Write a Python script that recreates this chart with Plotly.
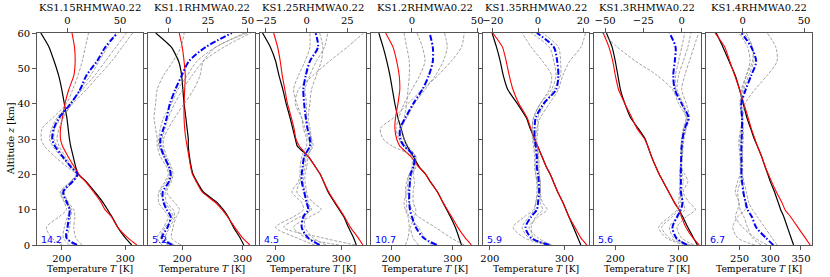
import plotly.graph_objects as go

# ---------------- data ----------------
Z = [0, 2, 5, 8, 10, 12, 15, 18, 20, 22, 25, 28, 30, 33, 36, 40, 44, 48, 52, 56, 60]

titles = ["KS1.15RHMWA0.22", "KS1.1RHMWA0.22", "KS1.25RHMWA0.22", "KS1.2RHMWA0.22",
          "KS1.35RHMWA0.22", "KS1.3RHMWA0.22", "KS1.4RHMWA0.22"]
notes = ["14.2", "5.2", "4.5", "10.7", "5.9", "5.6", "6.7"]

# panel 1
p1_black = [310, 300, 288, 279, 272, 265, 252, 238, 226, 222, 218, 214, 212, 210, 208, 204, 200, 195, 188, 180, 167]
p1_red = [318, 304, 288, 278, 268, 262, 250, 237, 227, 220, 210, 201, 198, 198, 201, 205, 211, 219, 221, 220, 216]
p1_blue = [9, -1, 0, 1.5, 2, -0.5, -4, 5, 9.5, 3.5, -4.5, -12, -14.5, -13, -8, 3, 12, 18, 28, 36, 47.5]
p1_g1 = [-5, -15, -20, -8, -1, -3, -7, 3, 8, 0, -12, -22, -25, -24, -14, -1, 5, 10, 14, 17, 20]
p1_g2 = [14, 8, 6, 7, 6, 1, -3, 6, 10, 5, -2, -8, -10, -8, -4, 4, 12, 22, 30, 38, 46]
p1_g3 = [2, -4, -3, 0, 3, 0, -5, 3, 9, 3, -6, -14, -17, -15, -10, 2, 14, 26, 36, 46, 56]
p1_g4 = [5, 0, 2, 3, 4, -2, -6, 4, 10, 4, -4, -10, -13, -12, -6, 5, 18, 30, 42, 52, 62]

# panel 2
p2_black = [302, 296, 285, 276, 268, 258, 235, 224, 218, 215, 212, 210, 210, 208, 206, 203, 201, 199, 194, 182, 156]
p2_red = [312, 300, 287, 275, 266, 255, 233, 223, 217, 214, 211, 208, 206, 204, 203, 203, 204, 205, 203, 200, 195]
p2_blue = [2.5, -4, -0.5, 1.5, -1, -3, -3.5, 0.5, 1.5, 0.5, -2.5, -5, -5, -3, -1, 1, 4.4, 8.5, 13, 23.5, 40]
p2_g1 = [-4, -7, -3, 0, -3, -6, -6, -2, 0, -1, -5, -7, -7, -8, -9, -8, -7, -3, 3, 8, 10]
p2_g2 = [8, 2, 3, 5, 7, 4, -1, 2, 3, 2, -1, -3, -3, 0, 4, 10, 16, 20, 22, 30, 50]
p2_g3 = [0, -5, -2, 3, 1, -2, -5, -1, 1, 0, -3, -6, -6, -5, -3, 2, 6, 12, 18, 30, 48]
p2_g4 = [4, -2, 1, 4, 3, -1, -2, 1, 2, 1, -2, -4, -4, -2, 0, 4, 9, 15, 22, 35, 52]

# panel 3
p3_black = [323, 319, 311, 304, 297, 290, 280, 273, 268, 261, 250, 233, 230, 226, 222, 216, 211, 205, 200, 192, 180]
p3_red = [333, 326, 314, 305, 298, 291, 281, 273, 268, 261, 250, 236, 231, 228, 224, 218, 214, 210, 207, 203, 197]
p3_blue = [8, 1, -3, -2, 1, 0, -1.5, -3, -3, -2.5, -1.5, 2, 2, 0.5, -0.5, -1.5, -2, -0.5, 2, 7, 5.5]
p3_g1 = [30, 10, -14, -4, 3, 0, -6, -4, -3, -2, -1, 2, 1, -1, -3, -7, -5, 4, 14, 25, 35]
p3_g2 = [20, 0, -8, 2, 9, 4, -1, -2, -2, -1, 0, 4, 3, 1, 0, 0, -1, 2, 6, 11, 13]
p3_g3 = [5, -6, -19, -8, -2, -3, -9, -5, -4, -4, -3, 0, 0, -2, -3, -6, -8, -5, -1, 2, 2]
p3_g4 = [12, 4, -1, -1, 2, 1, 0, -1, -1, 0, 1, 3, 3, 2, 1, 2, 3, 6, 9, 10, 8]

# panel 4
p4_black = [314, 310, 304, 296, 290, 284, 275, 263, 256, 246, 236, 226, 221, 216, 211, 206, 202, 198, 193, 187, 180]
p4_red = [330, 320, 308, 298, 291, 284, 275, 263, 256, 245, 232, 214, 209, 206, 207, 211, 214, 213, 209, 203, 191]
p4_blue = [19, 9, 3, 0, -1.5, -2, -2, -1.5, -1, 1, 2, -6, -9, -9, -5, 1, 8, 13, 16, 16, 13.5]
p4_g1 = [40, 30, 18, 5, 0, -2, -3, -1, 0, 3, 1, -15, -22, -24, -14, -3, 8, 20, 30, 38, 40]
p4_g2 = [-5, -3, -2, -3, -5, -6, -4, -3, -2, 0, 0, -5, -8, -9, -6, -4, -3, -2, -2, -4, -6]
p4_g3 = [5, 1, -1, 2, 3, 1, 1, 2, 1, 2, 3, -3, -6, -8, -4, 2, 10, 18, 24, 27, 25]
p4_g4 = [15, 10, 5, -2, -4, -4, -5, -4, -2, 1, 3, -6, -10, -12, -10, -6, 0, 6, 10, 8, 4]

# panel 5
p5_black = [322, 318, 312, 306, 302, 298, 291, 285, 281, 276, 270, 264, 260, 254, 249, 237, 224, 218, 214, 209, 203]
p5_red = [330, 322, 314, 306, 302, 298, 291, 285, 281, 276, 270, 264, 260, 255, 250, 239, 231, 226, 222, 217, 204]
p5_blue = [5, -3, -5.5, -3, -0.5, 0, 0.5, 0.3, 0, -0.5, -0.5, -1, -1.5, -1.5, -1, 2.5, 8, 9, 8.5, 7, -0.5]
p5_g1 = [6, 0, -4, 0, 4, 2, 1, 1, 0.5, 0, 0, -0.5, -1, -0.5, 1, 5, 9, 11, 14, 19, 21]
p5_g2 = [4, -6, -11, -6, -2, -1, -0.5, -0.5, -1, -1.5, -1.5, -2, -2.5, -2.5, -2, 1, 5, 6, 2, -3, -7]
p5_g3 = [5, -2, -3, -1, 2, 1, 1, 1, 0.5, 0.5, 0.3, -0.3, -0.5, 0, 0, 3, 7, 10, 10, 9, 2]
p5_g4 = [5, -4, -7, -4, -1.5, -1, 0, -0.5, -1, -1, -1, -1.5, -2, -2.5, -2, 1, 6, 8, 7, 5, -3]

# panel 6
p6_black = [329, 323, 314, 306, 300, 293, 284, 275, 269, 264, 257, 251, 247, 236, 224, 215, 208, 204, 200, 195, 186]
p6_red = [332, 322, 311, 304, 300, 293, 284, 275, 269, 264, 257, 251, 246, 234, 226, 215, 205, 200, 196, 190, 181]
p6_blue = [3.5, -3.5, -6, -3, -0.5, 0.5, -0.5, -0.5, -0.5, -0.5, -0.3, 0, 0.5, 2, 4.5, 0, -4.5, -5.5, -4.5, -4, -8]
p6_g1 = [4, -8, -13, -6, -2, -1, -1, -1, -1, -0.5, 0, 0, 0.5, 1.5, 3, -2, -6, -16, -30, -42, -52]
p6_g2 = [8, 0, -3, 3, 9, 5, 1, 4, 2, 0, 0.5, 1, 1.5, 3, 5, 3, 0, 2, 5, 8, 11]
p6_g3 = [6, -5, -8, -2, 2, 1, 0, 1, 0.5, 0, 0, 0.5, 1, 2.5, 4, 1, -3, -2, 1, 4, 6]
p6_g4 = [2, -10, -15, -8, -3, -2, -1.5, -1, -1.5, -1, -0.5, -0.5, 0, 1, 3, 0, -4, -4, -2, 0, 2]

# panel 7
p7_black = [338, 334, 328, 322, 317, 313, 307, 300, 296, 292, 286, 279, 274, 268, 262, 256, 250, 243, 233, 223, 212]
p7_red = [365, 357, 345, 333, 324, 319, 310, 302, 297, 292, 286, 279, 275, 269, 264, 257, 250, 242, 234, 226, 210]
p7_blue = [25, 19, 11, 7.5, 4, 2.5, 0.5, -0.5, -1, -1, -1, -1, -0.8, -0.5, -0.5, -1, 2.5, 7, 11, 7, -1]
p7_g1 = [15, 8, 4, 1, -2, -3, -4, -2, -1, -1, -2, -3, -3, -1.5, 0, 2, 10, 20, 28, 27, 20]
p7_g2 = [20, 10, 0, -6, -4, -3, -6, -4, -2, -2, -2, -2, -2, -1, -1, -2, -1, 3, 8, 8, 3]
p7_g3 = [28, 24, 18, 12, 8, 5, 3, 1, 0, 0, 0, 0, 0.5, 0.5, 0, -1, 1, 5, 9, 8, 1]
p7_g4 = [10, -4, -8, -4, 2, 2, 1, 0, -1, -1, -1, -1, -1, 0, 0, -2, 0, 3, 6, 4, -3]

# axes: ranges and ticks
T_ranges = [[161, 328], [144, 320], [176, 338], [168, 340], [190.7, 333], [167, 334], [195, 368]]
U_ranges = [[-29, 72], [-12.5, 54.4], [-28.7, 36.6], [-31, 50.3], [-24.4, 22.6], [-57, 12.3], [-30, 56.5]]
T_ticks = [[200, 300], [200, 300], [200, 300], [200, 300], [200, 300], [200, 300], [250, 300, 350]]
U_ticks = [[0, 50], [0, 25, 50], [-25, 0, 25], [0, 50], [-20, 0, 20], [-50, -25, 0], [0, 50]]
z_ticks = [0, 10, 20, 30, 40, 50, 60]

blacks = [p1_black, p2_black, p3_black, p4_black, p5_black, p6_black, p7_black]
reds = [p1_red, p2_red, p3_red, p4_red, p5_red, p6_red, p7_red]
blues = [p1_blue, p2_blue, p3_blue, p4_blue, p5_blue, p6_blue, p7_blue]
grays = [[p1_g1, p1_g2, p1_g3, p1_g4], [p2_g1, p2_g2, p2_g3, p2_g4], [p3_g1, p3_g2, p3_g3, p3_g4],
         [p4_g1, p4_g2, p4_g3, p4_g4], [p5_g1, p5_g2, p5_g3, p5_g4], [p6_g1, p6_g2, p6_g3, p6_g4],
         [p7_g1, p7_g2, p7_g3, p7_g4]]

# ---------------- layout ----------------
W, H = 830, 277
PLOT_L, PLOT_T, PLOT_R, PLOT_B = 37, 33, 818, 245  # pixels
ML, MT = PLOT_L, PLOT_T
MR, MB = W - PLOT_R, H - PLOT_B
PW = PLOT_R - PLOT_L
PH = PLOT_B - PLOT_T
panel_w = 107
step = (PW - panel_w) / 6
FONT = "DejaVu Serif"
SPINE = "#555555"


def px(xp):
    return (xp - PLOT_L) / PW


def py(yp):
    return (PLOT_B - yp) / PH


fig = go.Figure()
layout = dict(
    width=W, height=H, margin=dict(l=ML, r=MR, t=MT, b=MB),
    paper_bgcolor="white", plot_bgcolor="white", showlegend=False,
    font=dict(family=FONT, size=9, color="black"),
)
annotations = []

for i in range(7):
    n = i + 1
    left = PLOT_L + i * step
    d0 = px(left)
    d1 = px(left + panel_w)
    xb = "x" if n == 1 else f"x{n}"
    yb = "y" if n == 1 else f"y{n}"
    xt = f"x{n + 7}"
    common = dict(showgrid=False, zeroline=False, showline=True, linecolor=SPINE, linewidth=1.3,
                  ticks="outside", ticklen=3.5, tickwidth=1, tickcolor=SPINE,
                  tickfont=dict(family=FONT, size=10, color="black"))
    layout["xaxis" if n == 1 else f"xaxis{n}"] = dict(
        common, domain=[d0, d1], anchor=yb, range=T_ranges[i], tickvals=T_ticks[i])
    layout[f"xaxis{n + 7}"] = dict(
        common, overlaying=xb, side="top", anchor=yb, range=U_ranges[i], tickvals=U_ticks[i])
    layout["yaxis" if n == 1 else f"yaxis{n}"] = dict(
        common, domain=[0, 1], anchor=xb, range=[0, 60], tickvals=z_ticks,
        showticklabels=(n == 1), mirror=True)

    for g in grays[i]:
        fig.add_trace(go.Scatter(x=g, y=Z, xaxis=xt, yaxis=yb, mode="lines", hoverinfo="skip",
                                 line=dict(color="#8a8a8a", width=0.8, dash="3px,1.6px",
                                           shape="spline", smoothing=0.8)))
    fig.add_trace(go.Scatter(x=blues[i], y=Z, xaxis=xt, yaxis=yb, mode="lines", hoverinfo="skip",
                             line=dict(color="#0000ff", width=2.0, dash="6px,2px,1.5px,2px",
                                       shape="spline", smoothing=0.8)))
    fig.add_trace(go.Scatter(x=blacks[i], y=Z, xaxis=xb, yaxis=yb, mode="lines", hoverinfo="skip",
                             line=dict(color="black", width=1.2, shape="spline", smoothing=0.5)))
    fig.add_trace(go.Scatter(x=reds[i], y=Z, xaxis=xb, yaxis=yb, mode="lines", hoverinfo="skip",
                             line=dict(color="#ff0000", width=1.1, shape="spline", smoothing=0.5)))

    cx = (d0 + d1) / 2
    annotations.append(dict(text=titles[i], xref="paper", yref="paper", x=cx,
                            y=py(8), xanchor="center", yanchor="middle",
                            showarrow=False, font=dict(family=FONT, size=10)))
    annotations.append(dict(text="Temperature <i>T</i> [K]", xref="paper", yref="paper", x=cx,
                            y=py(268), xanchor="center", yanchor="middle",
                            showarrow=False, font=dict(family=FONT, size=9.2)))
    annotations.append(dict(text=notes[i], xref="paper", yref="paper", x=px(left + 2),
                            y=py(239), xanchor="left", yanchor="middle",
                            showarrow=False, font=dict(family="DejaVu Sans", size=9.5, color="#0000ff")))

annotations.append(dict(text="Altitude <i>z</i> [km]", xref="paper", yref="paper",
                        x=px(10), y=0.5, xanchor="center", yanchor="middle", textangle=-90,
                        showarrow=False, font=dict(family=FONT, size=9.5)))
layout["annotations"] = annotations
fig.update_layout(**layout)
fig.write_html("out.html", config={"displayModeBar": False, "staticPlot": True},
               post_script="document.body.style.margin='0px';")
